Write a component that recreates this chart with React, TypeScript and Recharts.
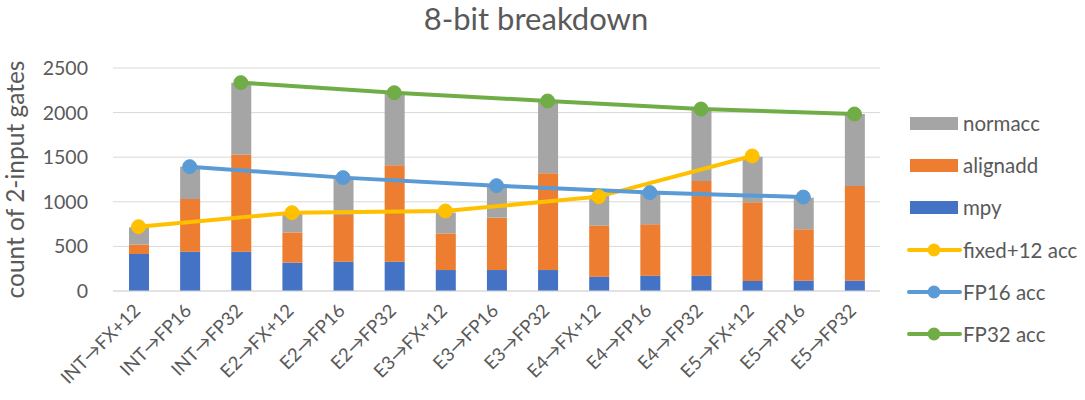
import {
  ComposedChart, Bar, Line, XAxis, YAxis, CartesianGrid,
} from 'recharts'

const categories = [
  'INT→FX+12', 'INT→FP16', 'INT→FP32',
  'E2→FX+12', 'E2→FP16', 'E2→FP32',
  'E3→FX+12', 'E3→FP16', 'E3→FP32',
  'E4→FX+12', 'E4→FP16', 'E4→FP32',
  'E5→FX+12', 'E5→FP16', 'E5→FP32',
]

const mpy = [415, 441, 441, 318, 329, 329, 235, 235, 235, 161, 172, 172, 112, 116, 116]
const alignadd = [104, 590, 1087, 339, 523, 1080, 411, 587, 1084, 572, 575, 1061, 882, 576, 1061]
const normacc = [195, 363, 808, 221, 419, 806, 234, 348, 803, 336, 348, 796, 512, 354, 807]

const fixedAcc = [721, null, null, 878, null, null, 897, null, null, 1058, null, null, 1513, null, null]
const fp16Acc = [null, 1394, null, null, 1271, null, null, 1181, null, null, 1103, null, null, 1053, null]
const fp32Acc = [null, null, 2336, null, null, 2223, null, null, 2130, null, null, 2040, null, null, 1984]

const yTicks = [0, 500, 1000, 1500, 2000, 2500]

const COLORS = {
  mpy: '#4472C4',
  alignadd: '#ED7D31',
  normacc: '#A5A5A5',
  fixed: '#FFC000',
  fp16: '#5B9BD5',
  fp32: '#70AD47',
}

const FONT = 'Lato, "Open Sans", sans-serif'
const TEXT = '#595959'

const data = categories.map((name, i) => ({
  name,
  mpy: mpy[i],
  alignadd: alignadd[i],
  normacc: normacc[i],
  fixed: fixedAcc[i],
  fp16: fp16Acc[i],
  fp32: fp32Acc[i],
}))

const legendItems = [
  { label: 'normacc', color: COLORS.normacc, kind: 'bar' },
  { label: 'alignadd', color: COLORS.alignadd, kind: 'bar' },
  { label: 'mpy', color: COLORS.mpy, kind: 'bar' },
  { label: 'fixed+12 acc', color: COLORS.fixed, kind: 'line' },
  { label: 'FP16 acc', color: COLORS.fp16, kind: 'line' },
  { label: 'FP32 acc', color: COLORS.fp32, kind: 'line' },
]

const ChartLegend = () => (
  <div style={{
    position: 'absolute', left: 906, top: 102,
    fontFamily: FONT, fontSize: 20.5, color: TEXT,
  }}>
    {legendItems.map(item => (
      <div key={item.label} style={{ display: 'flex', alignItems: 'center', height: 42.2 }}>
        <svg width={56} height={16} style={{ marginRight: 1 }}>
          {item.kind === 'bar' ? (
            <rect x={4} y={2} width={48} height={13} fill={item.color} />
          ) : (
            <>
              <line x1={3} y1={8} x2={54} y2={8} stroke={item.color} strokeWidth={4} strokeLinecap="round" />
              <circle cx={28} cy={8} r={6.5} fill={item.color} />
            </>
          )}
        </svg>
        <span>{item.label}</span>
      </div>
    ))}
  </div>
)

const XTick = ({ x, y, payload }: any) => (
  <text
    x={x + 3}
    y={y + 13}
    textAnchor="end"
    transform={`rotate(-45, ${x + 3}, ${y + 13})`}
    fill={TEXT}
    fontSize={18.5}
    fontFamily={FONT}
  >
    {payload.value}
  </text>
)

export default function App() {
  return (
    <div style={{ position: 'absolute', left: 0, top: 0, width: 1085, height: 400, background: '#fff' }}>
      <div style={{
        position: 'absolute', top: -1, left: 36, width: 1000, textAlign: 'center',
        fontFamily: FONT, fontSize: 31, color: TEXT,
      }}>
        8-bit breakdown
      </div>
      <ComposedChart
        width={1085}
        height={400}
        data={data}
        margin={{ top: 68, right: 205, bottom: 0, left: 33 }}
        barCategoryGap={0}
      >
        <CartesianGrid vertical={false} stroke="#D9D9D9" strokeWidth={1} />
        <XAxis
          dataKey="name"
          interval={0}
          height={109}
          tick={<XTick />}
          tickLine={false}
          axisLine={{ stroke: '#D9D9D9' }}
        />
        <YAxis
          domain={[0, 2500]}
          ticks={yTicks}
          width={80}
          tickLine={false}
          axisLine={false}
          tick={{ fill: TEXT, fontSize: 19.5, fontFamily: FONT }}
          tickMargin={19}
          label={{
            value: 'count of 2-input gates',
            angle: -90,
            position: 'insideLeft',
            offset: -18,
            style: { fill: TEXT, fontSize: 24.5, fontFamily: FONT, textAnchor: 'middle' },
          }}
        />
        <Bar dataKey="mpy" stackId="a" fill={COLORS.mpy} barSize={20} isAnimationActive={false} />
        <Bar dataKey="alignadd" stackId="a" fill={COLORS.alignadd} barSize={20} isAnimationActive={false} />
        <Bar dataKey="normacc" stackId="a" fill={COLORS.normacc} barSize={20} isAnimationActive={false} />
        <Line dataKey="fixed" stroke={COLORS.fixed} strokeWidth={4} connectNulls
          dot={{ r: 7, fill: COLORS.fixed, stroke: COLORS.fixed, strokeWidth: 1 }} isAnimationActive={false} />
        <Line dataKey="fp16" stroke={COLORS.fp16} strokeWidth={4} connectNulls
          dot={{ r: 7, fill: COLORS.fp16, stroke: COLORS.fp16, strokeWidth: 1 }} isAnimationActive={false} />
        <Line dataKey="fp32" stroke={COLORS.fp32} strokeWidth={4} connectNulls
          dot={{ r: 7, fill: COLORS.fp32, stroke: COLORS.fp32, strokeWidth: 1 }} isAnimationActive={false} />
      </ComposedChart>
      <ChartLegend />
    </div>
  )
}
